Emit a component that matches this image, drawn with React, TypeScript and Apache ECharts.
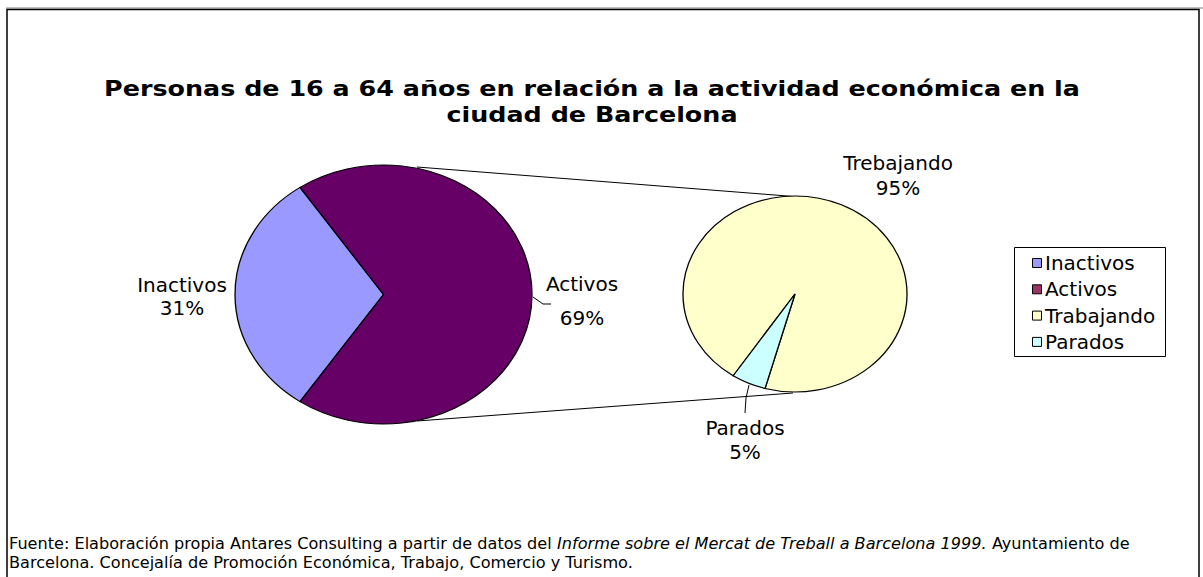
import React, { useEffect, useRef } from 'react';
import * as echarts from 'echarts';

// ---- data ----
const primaryNames = ['Inactivos', 'Activos'];
const primaryValues = [31, 69];
const primaryLabels = ['Inactivos', 'Activos'];
const secondaryNames = ['Trabajando', 'Parados'];
const secondaryValues = [95, 5];
const secondaryLabels = ['Trebajando', 'Parados'];
const legendNames = ['Inactivos', 'Activos', 'Trabajando', 'Parados'];

const titleText =
  'Personas de 16 a 64 años en relación a la actividad económica en la\nciudad de Barcelona';
const footLine1a = 'Fuente: Elaboración propia Antares Consulting a partir de datos del ';
const footLine1b = 'Informe sobre el Mercat de Treball a Barcelona 1999.';
const footLine1c = ' Ayuntamiento de';
const footLine2 = 'Barcelona. Concejalía de Promoción Económica, Trabajo, Comercio y Turismo.';

// ---- styles / layout ----
const primaryColors = ['#9999FF', '#660066'];
const secondaryColors = ['#FFFFCC', '#CCFFFF'];
const legendColors = ['#9999FF', '#993366', '#FFFFCC', '#CCFFFF'];
const FONT = '"DejaVu Sans", Verdana, sans-serif';

const sum = (a: number[]) => a.reduce((s, v) => s + v, 0);

// primary: first slice (Inactivos) centred on the left (180deg)
const PIE1 = {
  cx: 383.5,
  cy: 294.5,
  rx: 148.5,
  ry: 129.5,
  start: 180 - (primaryValues[0] / sum(primaryValues)) * 180,
};
// secondary: last slice (Parados) centred at 245.5deg (math, ccw)
const PIE2 = {
  cx: 795,
  cy: 294,
  rx: 112,
  ry: 98,
  start: 245.5 + (secondaryValues[1] / sum(secondaryValues)) * 180 - 360,
};
const primaryLabelLayout = [
  { dx: -201.5, dy: 1.5, lh: 23 },
  { dx: 198.5, dy: 6, lh: 34 },
];
const secondaryLabelLayout = [
  { dx: 103, dy: -119, lh: 25 },
  { dx: -50, dy: 146, lh: 24 },
];

function pieSeries(
  name: string,
  names: string[],
  values: number[],
  colors: string[],
  labels: string[],
  geo: any,
  layout: any[]
) {
  const total = sum(values);
  const rad = Math.PI / 180;
  return {
    type: 'custom',
    name,
    coordinateSystem: 'none',
    data: values.map((v, i) => ({ name: names[i], value: [v] })),
    renderItem: (params: any, api: any) => {
      const i = params.dataIndex;
      const v = api.value(0);
      const a0 = geo.start + (sum(values.slice(0, i)) / total) * 360;
      const a1 = a0 + (v / total) * 360;
      const lab = layout[i];
      return {
        type: 'group',
        children: [
          {
            type: 'group',
            x: geo.cx,
            y: geo.cy,
            scaleY: geo.ry / geo.rx,
            children: [
              {
                type: 'sector',
                shape: {
                  cx: 0,
                  cy: 0,
                  r0: 0,
                  r: geo.rx,
                  startAngle: -a1 * rad,
                  endAngle: -a0 * rad,
                  clockwise: true,
                },
                style: {
                  fill: colors[i],
                  stroke: '#000',
                  lineWidth: 1.3,
                  strokeNoScale: true,
                },
              },
            ],
          },
          {
            type: 'text',
            x: geo.cx + lab.dx,
            y: geo.cy + lab.dy,
            style: {
              text: labels[i] + '\n' + Math.round((v / total) * 100) + '%',
              fill: '#000',
              fontSize: 20,
              fontFamily: FONT,
              align: 'center',
              verticalAlign: 'middle',
              lineHeight: lab.lh,
            },
          },
        ],
      };
    },
  };
}

export default function App() {
  const ref = useRef<HTMLDivElement>(null);
  useEffect(() => {
    if (!ref.current) return;
    const chart = echarts.init(ref.current, undefined, { renderer: 'svg' });

    const legendRowY = (i: number) => 263 + i * 26.3;
    const legendEls: any[] = [
      {
        type: 'rect',
        shape: { x: 1014.5, y: 247.5, width: 151, height: 109 },
        style: { fill: '#fff', stroke: '#000', lineWidth: 1 },
      },
    ];
    legendNames.forEach((n, i) => {
      legendEls.push({
        type: 'rect',
        shape: { x: 1032.5, y: legendRowY(i) - 4.5, width: 9, height: 9 },
        style: { fill: legendColors[i], stroke: '#000', lineWidth: 1 },
      });
      legendEls.push({
        type: 'text',
        x: 1045,
        y: legendRowY(i),
        style: {
          text: n,
          fill: '#000',
          fontSize: 20,
          fontFamily: FONT,
          verticalAlign: 'middle',
        },
      });
    });

    const option: any = {
      animation: false,
      backgroundColor: '#fff',
      graphic: [
        {
          type: 'line',
          shape: { x1: 6, y1: 8, x2: 1203, y2: 8 },
          style: { stroke: '#808080', lineWidth: 1 },
        },
        {
          type: 'rect',
          shape: { x: 7, y: 9.5, width: 1192, height: 600 },
          style: { fill: 'none', stroke: '#000', lineWidth: 1.5 },
        },
        {
          type: 'text',
          x: 592,
          y: 76,
          scaleX: 1.155,
          style: {
            text: titleText,
            fill: '#000',
            fontSize: 22,
            fontWeight: 'bold',
            fontFamily: FONT,
            align: 'center',
            verticalAlign: 'top',
            lineHeight: 26,
          },
        },
        // connector lines between the two pies
        {
          type: 'line',
          shape: { x1: 417, y1: 167, x2: 800, y2: 197 },
          style: { stroke: '#000', lineWidth: 1 },
        },
        {
          type: 'line',
          shape: { x1: 417, y1: 421, x2: 793, y2: 393 },
          style: { stroke: '#000', lineWidth: 1 },
        },
        // leader lines
        {
          type: 'polyline',
          shape: { points: [[533, 297], [543, 304], [551, 304]] },
          style: { stroke: '#000', lineWidth: 1, fill: 'none' },
        },
        {
          type: 'polyline',
          shape: { points: [[749, 385], [746, 398], [745, 413]] },
          style: { stroke: '#000', lineWidth: 1, fill: 'none' },
        },
        ...legendEls,
        {
          type: 'text',
          x: 9,
          y: 534,
          scaleX: 1.007,
          style: {
            text:
              footLine1a + '{i|' + footLine1b + '}' + footLine1c + '\n' + footLine2,
            fill: '#000',
            fontSize: 16,
            fontFamily: FONT,
            lineHeight: 19,
            rich: {
              i: { fontStyle: 'italic', fontSize: 16, fontFamily: FONT, lineHeight: 19 },
            },
          },
        },
      ],
      series: [
        pieSeries('Primary', primaryNames, primaryValues, primaryColors, primaryLabels, PIE1, primaryLabelLayout),
        pieSeries('Secondary', secondaryNames, secondaryValues, secondaryColors, secondaryLabels, PIE2, secondaryLabelLayout),
      ],
    };
    chart.setOption(option);
    return () => chart.dispose();
  }, []);
  return (
    <div
      ref={ref}
      style={{ position: 'absolute', left: 0, top: 0, width: 1203, height: 577, background: '#fff' }}
    />
  );
}
